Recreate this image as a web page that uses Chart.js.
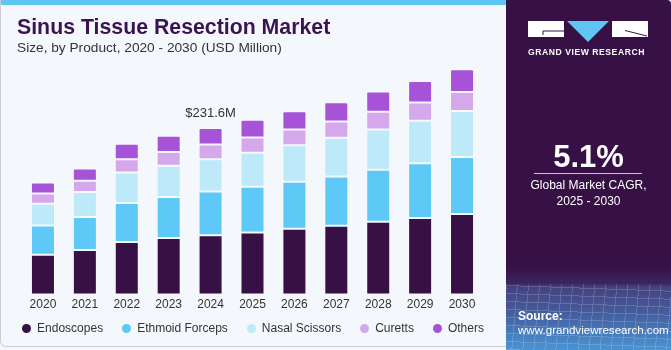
<!DOCTYPE html>
<html>
<head>
<meta charset="utf-8">
<script src="https://cdn.jsdelivr.net/npm/chart.js@4.4.1/dist/chart.umd.min.js"></script>
<style>
  html, body { margin:0; padding:0; width:671px; height:350px; overflow:hidden; background:#ffffff; font-family:"Liberation Sans", Arial, sans-serif; }
  #card { position:absolute; left:0; top:0; width:506px; height:350px; background:#f4f8fc; }
  #strip { position:absolute; left:0; top:0; width:506px; height:5px; background:#5ec6f2; }
  #border { position:absolute; left:0; top:0; width:510px; height:347px; border:1px solid #c9ced3; border-top:none; border-radius:0 0 6px 6px; box-sizing:border-box; pointer-events:none; z-index:5; }
  #wrap { position:absolute; left:0; top:0; width:506px; height:350px; }
  #title { position:absolute; left:17px; top:15px; font-size:21.3px; font-weight:bold; color:#3a1450; white-space:nowrap; z-index:6; }
  #subtitle { position:absolute; left:17px; top:40px; font-size:13.7px; color:#333333; white-space:nowrap; z-index:6; }
  #legend { position:absolute; left:0; width:506px; top:320px; height:16px; display:flex; justify-content:center; align-items:center; z-index:6; }
  .li { display:flex; align-items:center; margin:0 9.5px; font-size:12px; color:#333333; white-space:nowrap; }
  .dot { width:9px; height:9px; border-radius:50%; margin-right:6px; }
  #panel { position:absolute; left:506px; top:0; width:165px; height:350px; z-index:7;
    background: linear-gradient(180deg, #371046 0%, #371046 76%, #3b2660 81%, #45417f 82%, #4460a0 90%, #4a94d4 100%);
    border-top-right-radius:4px; overflow:hidden; }
  #grid { position:absolute; left:0; top:284px; width:165px; height:66px; opacity:0.18;
    background-image: repeating-linear-gradient(95deg, rgba(255,255,255,0.9) 0 1px, transparent 1px 11px),
                      repeating-linear-gradient(2deg, rgba(255,255,255,0.9) 0 1px, transparent 1px 8px); }
  .pt { position:absolute; color:#ffffff; white-space:nowrap; }
</style>
</head>
<body>
<div id="card"></div>
<div id="strip"></div>
<div id="wrap"><canvas id="c" width="506" height="350"></canvas></div>
<div id="border"></div>
<div id="title">Sinus Tissue Resection Market</div>
<div id="subtitle">Size, by Product, 2020 - 2030 (USD Million)</div>
<div id="legend"></div>
<div id="panel">
  <svg style="position:absolute;left:0;top:0" width="165" height="60">
    <rect x="22" y="21" width="36" height="16" fill="#ffffff"/>
    <polyline points="58,31 37,31 37,35" fill="none" stroke="#371046" stroke-width="1"/>
    <polygon points="61,21 103,21 82,42" fill="#5ec6f2"/>
    <rect x="106" y="21" width="36" height="16" fill="#ffffff"/>
    <line x1="119" y1="30.5" x2="141" y2="36" stroke="#371046" stroke-width="1"/>
  </svg>
  <div class="pt" style="left:22px;top:47px;font-size:8.6px;font-weight:bold;letter-spacing:0.55px;">GRAND VIEW RESEARCH</div>
  <div class="pt" style="left:0;width:165px;text-align:center;top:139px;font-size:31px;font-weight:bold;">5.1%</div>
  <div style="position:absolute;left:28px;top:173px;width:108px;height:1px;background:#cdbfd6;"></div>
  <div class="pt" style="left:0;width:165px;text-align:center;top:178px;font-size:12px;">Global Market CAGR,</div>
  <div class="pt" style="left:0;width:165px;text-align:center;top:194px;font-size:12px;">2025 - 2030</div>
  <div id="grid"></div>
  <div class="pt" style="left:12px;top:309px;font-size:12px;font-weight:bold;">Source:</div>
  <div class="pt" style="left:12px;top:323px;font-size:11.6px;">www.grandviewresearch.com</div>
</div>
<script>
const categories = ['2020','2021','2022','2023','2024','2025','2026','2027','2028','2029','2030'];
const endoscopes     = [55.6, 62.1, 73.3, 78.9, 82.7, 86.4, 91.5, 95.7, 101.3, 106.5, 112.1];
const ethmoidForceps = [40.6, 45.8, 54.2, 57.0, 60.7, 63.5, 65.4, 68.6, 72.4, 76.1, 79.4];
const nasalScissors  = [30.3, 35.0, 42.5, 43.4, 44.8, 47.6, 50.9, 53.8, 56.0, 59.4, 63.9];
const curetts        = [14.0, 15.4, 18.2, 19.2, 20.6, 21.0, 22.0, 22.8, 24.8, 25.2, 26.6];
const others         = [15.4, 17.2, 21.6, 22.4, 22.8, 24.8, 25.2, 26.6, 28.0, 29.8, 31.4];
const seriesNames = ['Endoscopes','Ethmoid Forceps','Nasal Scissors','Curetts','Others'];
const seriesColors = ['#371046','#5ec8f6','#bde9f9','#d5a8ec','#a653d8'];
const annotationIndex = 4;
const annotationText = '$231.6M';

const seriesData = [endoscopes, ethmoidForceps, nasalScissors, curetts, others];
const datasets = seriesData.map((d, i) => ({
  label: seriesNames[i],
  data: d,
  backgroundColor: seriesColors[i],
  borderColor: 'rgba(255,255,255,0.35)',
  borderWidth: 1,
  borderSkipped: false,
  borderRadius: i === 4 ? {topLeft:2, topRight:2} : 0,
  categoryPercentage: 1,
  barPercentage: 0.573
}));

const annotationPlugin = {
  id: 'annot',
  afterDatasetsDraw(chart) {
    const meta = chart.getDatasetMeta(chart.data.datasets.length - 1);
    const el = meta.data[annotationIndex];
    const ctx = chart.ctx;
    ctx.save();
    ctx.font = '13px "Liberation Sans", Arial, sans-serif';
    ctx.fillStyle = '#333333';
    ctx.textAlign = 'center';
    ctx.textBaseline = 'middle';
    ctx.fillText(annotationText, el.x, el.y - 15);
    ctx.restore();
  }
};

const chart = new Chart(document.getElementById('c'), {
  type: 'bar',
  data: { labels: categories, datasets },
  options: {
    responsive: false,
    animation: false,
    layout: { padding: { left: 22, right: 23, top: 43, bottom: 35 } },
    scales: {
      x: { stacked: true, grid: { display: false, drawTicks: false, tickLength: 0 }, border: { display: false },
           ticks: { color: '#333333', padding: 3, font: { size: 12, family: '"Liberation Sans", Arial, sans-serif' } } },
      y: { stacked: true, display: false, min: 0, max: 350 }
    },
    plugins: { legend: { display: false }, tooltip: { enabled: false } }
  },
  plugins: [annotationPlugin]
});

const legendEl = document.getElementById('legend');
chart.data.datasets.forEach(ds => {
  const item = document.createElement('div');
  item.className = 'li';
  const dot = document.createElement('span');
  dot.className = 'dot';
  dot.style.background = ds.backgroundColor;
  item.appendChild(dot);
  item.appendChild(document.createTextNode(ds.label));
  legendEl.appendChild(item);
});
</script>
</body>
</html>
